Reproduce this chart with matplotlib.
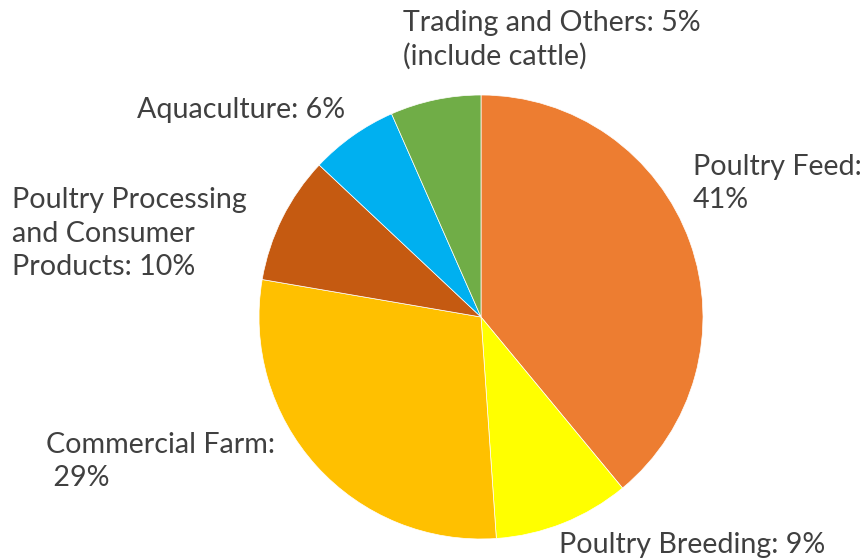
import matplotlib
matplotlib.use('Agg')
import matplotlib.pyplot as plt

segments = ['Poultry Feed', 'Poultry Breeding', 'Commercial Farm',
            'Poultry Processing', 'Aquaculture', 'Trading and Others']
shares = [39.0, 9.9, 28.8, 9.3, 6.4, 6.6]
colors = ['#ED7D31', '#FFFF00', '#FFC000', '#C55A11', '#00B0F0', '#70AD47']

# label text as printed on the chart
label_lines = {
    'Poultry Feed': ['Poultry Feed:', '41%'],
    'Poultry Breeding': ['Poultry Breeding: 9%'],
    'Commercial Farm': ['Commercial Farm:', ' 29%'],
    'Poultry Processing': ['Poultry Processing', 'and Consumer', 'Products: 10%'],
    'Aquaculture': ['Aquaculture: 6%'],
    'Trading and Others': ['Trading and Others: 5%', '(include cattle)'],
}

W, H = 868, 560
fig = plt.figure(figsize=(W / 100, H / 100), dpi=100)
ax = fig.add_axes([0, 0, 1, 1])

ax.pie(shares, colors=colors, startangle=90, counterclock=False,
       center=(481, H - 317), radius=222,
       wedgeprops=dict(edgecolor='white', linewidth=0.5))

# pie() sets its own limits, so override afterwards
ax.set_xlim(0, W)
ax.set_ylim(0, H)
ax.set_aspect('equal')
ax.axis('off')

# label anchor: left x, first baseline (pixels from top)
label_pos = {
    'Poultry Feed': (693, 175),
    'Poultry Breeding': (559, 553),
    'Commercial Farm': (46, 453),
    'Poultry Processing': (12, 208),
    'Aquaculture': (137, 118),
    'Trading and Others': (403, 31),
}
line_step = 33.5

for seg in segments:
    x0, y0 = label_pos[seg]
    for i, line in enumerate(label_lines[seg]):
        ax.text(x0, H - (y0 + i * line_step), line, ha='left', va='baseline',
                fontsize=20.6, color='#404040', family='Lato')

fig.savefig('out.png', dpi=100, facecolor='white')
